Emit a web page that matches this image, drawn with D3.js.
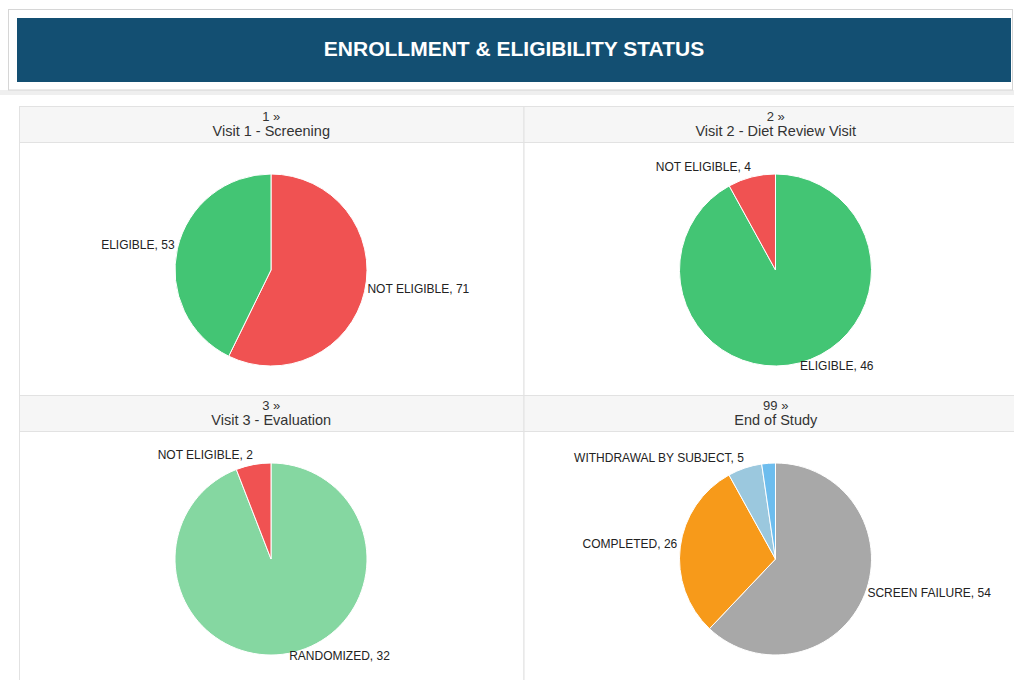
<!DOCTYPE html>
<html>
<head>
<meta charset="utf-8">
<script src="https://cdn.jsdelivr.net/npm/d3@7"></script>
<style>
  html, body { margin: 0; padding: 0; background: #fff; }
  svg { display: block; font-family: "Liberation Sans", Arial, sans-serif; }
</style>
</head>
<body>
<svg width="1014" height="680"></svg>
<script>
/*********************** DATA ***********************/
var title = "ENROLLMENT & ELIGIBILITY STATUS";

var panelNums = ["1 \u00bb", "2 \u00bb", "3 \u00bb", "99 \u00bb"];
var panelNames = ["Visit 1 - Screening", "Visit 2 - Diet Review Visit", "Visit 3 - Evaluation", "End of Study"];

// slices in clockwise order starting at 12 o'clock
var v1Labels = ["NOT ELIGIBLE", "ELIGIBLE"];
var v1Values = [71, 53];
var v1Colors = ["#f05252", "#43c574"];

var v2Labels = ["ELIGIBLE", "NOT ELIGIBLE"];
var v2Values = [46, 4];
var v2Colors = ["#43c574", "#f05252"];

var v3Labels = ["RANDOMIZED", "NOT ELIGIBLE"];
var v3Values = [32, 2];
var v3Colors = ["#85d7a1", "#f05252"];

var eosLabels = ["SCREEN FAILURE", "COMPLETED", "WITHDRAWAL BY SUBJECT", ""];
var eosValues = [54, 26, 5, 2];
var eosColors = ["#a8a8a8", "#f79a1a", "#9bc8de", "#6dbdee"];

/*********************** LAYOUT ***********************/
var svg = d3.select("svg");

var tblX = 19, tblY = 106;
var colW = 504.5;
var headH = 36, bodyH = 253;
var R = 96;          // pie radius
var LR = 99;         // label radius

// top banner
svg.append("rect").attr("x", 0).attr("y", 90).attr("width", 1014).attr("height", 5).attr("fill", "#efefef");
svg.append("rect")
  .attr("x", 8.5).attr("y", 9.5).attr("width", 1004).attr("height", 80.5)
  .attr("fill", "#fff").attr("stroke", "#d6d6d6");
svg.append("rect")
  .attr("x", 17).attr("y", 18).attr("width", 994).attr("height", 64)
  .attr("fill", "#134f72");
svg.append("text")
  .attr("x", 514).attr("y", 48)
  .attr("text-anchor", "middle").attr("dominant-baseline", "central")
  .attr("fill", "#fff").attr("font-size", 21).attr("font-weight", "bold")
  .text(title);

var panels = [
  {labels: v1Labels, values: v1Values, colors: v1Colors},
  {labels: v2Labels, values: v2Values, colors: v2Colors},
  {labels: v3Labels, values: v3Values, colors: v3Colors},
  {labels: eosLabels, values: eosValues, colors: eosColors}
];

var pie = d3.pie().sort(null).value(function(d) { return d; });
var arc = d3.arc().innerRadius(0).outerRadius(R);

for (var i = 0; i < panels.length; i++) {
  var col = i % 2, row = Math.floor(i / 2);
  var px = tblX + col * colW;
  var py = tblY + row * (headH + bodyH);

  // header cell
  svg.append("rect")
    .attr("x", px + 0.5).attr("y", py + 0.5).attr("width", colW).attr("height", headH)
    .attr("fill", "#f6f6f6").attr("stroke", "#e2e2e2");
  // body cell
  svg.append("rect")
    .attr("x", px + 0.5).attr("y", py + headH + 0.5).attr("width", colW).attr("height", bodyH)
    .attr("fill", "#fff").attr("stroke", "#e2e2e2");

  svg.append("text")
    .attr("x", px + colW / 2).attr("y", py + 15)
    .attr("text-anchor", "middle").attr("font-size", 13).attr("fill", "#333")
    .text(panelNums[i]);
  svg.append("text")
    .attr("x", px + colW / 2).attr("y", py + 30)
    .attr("text-anchor", "middle").attr("font-size", 14.5).attr("fill", "#333")
    .text(panelNames[i]);

  var cx = px + 252, cy = py + headH + 128;
  var g = svg.append("g").attr("transform", "translate(" + cx + "," + cy + ")");
  var p = panels[i];
  var arcs = pie(p.values);

  g.selectAll("path").data(arcs).enter().append("path")
    .attr("d", arc)
    .attr("fill", function(d, k) { return p.colors[k]; })
    .attr("stroke", "#fff").attr("stroke-width", 1);

  // labels at the mid angle, just outside the pie
  g.selectAll("text.lbl").data(arcs).enter().append("text")
    .attr("class", "lbl")
    .attr("x", function(d) { var a = (d.startAngle + d.endAngle) / 2; return LR * Math.sin(a); })
    .attr("y", function(d) {
      var a = (d.startAngle + d.endAngle) / 2;
      var y = -LR * Math.cos(a);
      if (y < -80) return y - 7;   //top labels sit a bit higher
      if (y > 80) return y;
      return y - 3;
    })
    .attr("text-anchor", function(d) { return (d.startAngle + d.endAngle) / 2 > Math.PI ? "end" : "start"; })
    .attr("dominant-baseline", "central")
    .attr("font-size", 12).attr("fill", "#222")
    .text(function(d, k) { return p.labels[k] ? p.labels[k] + ", " + d.value : ""; });
}
</script>
</body>
</html>
